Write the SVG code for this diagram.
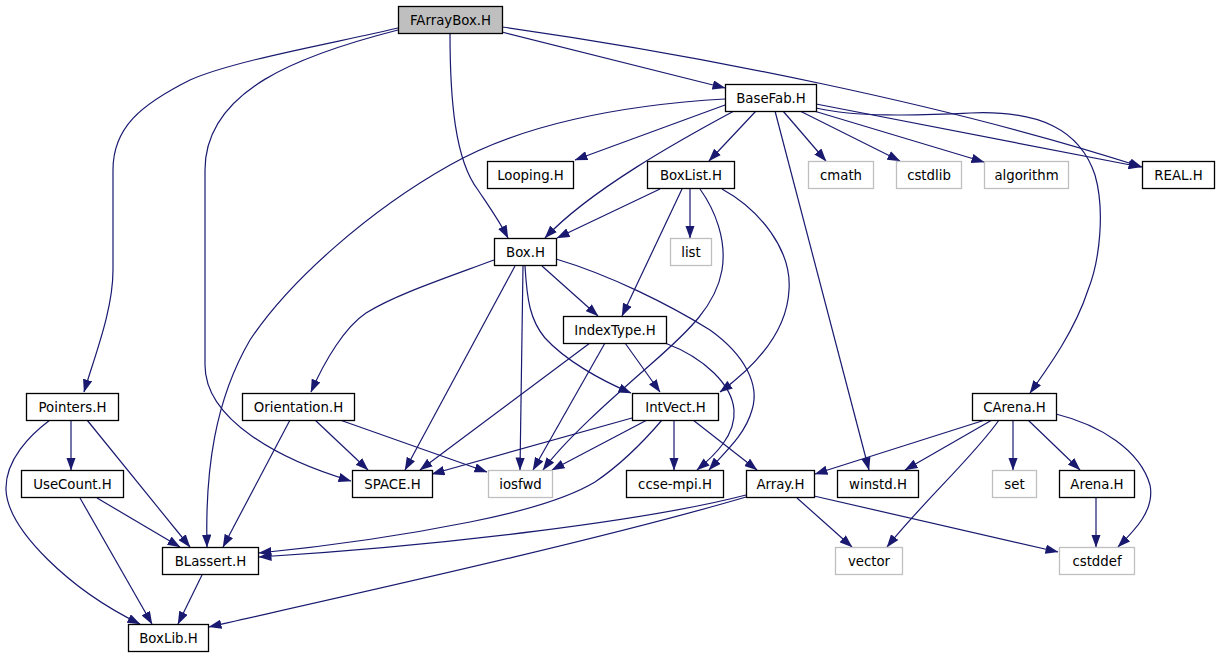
<svg xmlns="http://www.w3.org/2000/svg" width="1219" height="659" viewBox="0 0 1219 659">
<style>
.n rect{fill:#ffffff;stroke:#000000;stroke-width:1.3}
.s rect{fill:#ffffff;stroke:#bfbfbf;stroke-width:1.3}
.r rect{fill:#bfbfbf;stroke:#000000;stroke-width:1.3}
text{font-family:"DejaVu Sans",sans-serif;font-size:13.3px;fill:#000000;text-anchor:middle}
#edges path{fill:none;stroke:#191970;stroke-width:1.2;marker-end:url(#arr)}
</style>
<defs>
<marker id="arr" viewBox="0 0 13 9.4" refX="12.5" refY="4.7" markerWidth="13" markerHeight="9.4" orient="auto" markerUnits="userSpaceOnUse"><path d="M0,0 L13,4.7 L0,9.4 z" fill="#191970"/></marker>
</defs>
<rect width="1219" height="659" fill="#ffffff"/>
<g id="edges">
<path d="M398,28 C340,42 235,60 190,80 C140,105 113,128 113,170 L113,270 C113,310 95,355 84,392"/>
<path d="M398,30 C300,55 205,90 205,170 L205,365 C205,420 280,460 351,481"/>
<path d="M450,33 C450,100 455,160 478,190 C490,208 500,222 508,238"/>
<path d="M502,32 L725,88"/>
<path d="M502,27 C700,55 950,105 1142,167"/>
<path d="M725,99 C620,105 520,125 450,165 C370,210 290,280 250,340 C215,400 205,470 207,547"/>
<path d="M725,105 L575,160"/>
<path d="M734,111 C680,140 590,190 545,238"/>
<path d="M756,111 L709,161"/>
<path d="M775,111 L869,470"/>
<path d="M783,111 L826,161"/>
<path d="M800,111 L900,161"/>
<path d="M814,111 L984,162"/>
<path d="M816,104 L1141,167"/>
<path d="M816,108 C860,118 920,115 970,113 C1040,110 1080,130 1095,175 C1105,210 1100,260 1088,290 C1075,330 1050,365 1030,393"/>
<path d="M660,189 L557,238"/>
<path d="M690,189 L690,238"/>
<path d="M682,189 L622,316"/>
<path d="M700,189 C715,210 727,240 722,270 C716,305 690,330 650,365 C610,400 565,440 543,470"/>
<path d="M722,189 C760,210 792,250 789,290 C787,330 757,365 720,392"/>
<path d="M494,260 C440,280 395,295 366,313 C345,327 325,360 311,392"/>
<path d="M515,266 L405,470"/>
<path d="M523,266 L520,470"/>
<path d="M542,266 L598,316"/>
<path d="M525,266 C527,300 530,320 545,338 C565,360 600,380 631,393"/>
<path d="M556,259 C610,275 670,305 710,330 C745,355 760,385 752,410 C745,435 725,452 709,470"/>
<path d="M590,343 L420,470"/>
<path d="M605,343 L533,470"/>
<path d="M625,343 L660,392"/>
<path d="M665,343 C705,358 732,385 734,410 C736,435 715,455 697,470"/>
<path d="M632,418 L432,474"/>
<path d="M647,420 L552,470"/>
<path d="M674,420 L674,470"/>
<path d="M693,420 L757,470"/>
<path d="M662,420 C645,440 620,465 595,482 C565,500 520,512 470,522 C400,536 320,547 259,553"/>
<path d="M315,420 L368,470"/>
<path d="M340,420 L487,472"/>
<path d="M290,420 L223,547"/>
<path d="M71,420 L71,470"/>
<path d="M87,420 L190,547"/>
<path d="M50,420 C30,435 5,460 6,490 C8,530 70,590 140,624"/>
<path d="M97,498 L180,547"/>
<path d="M80,498 L152,624"/>
<path d="M202,575 L178,624"/>
<path d="M985,420 L815,474"/>
<path d="M992,420 L905,470"/>
<path d="M999,420 C975,455 920,505 887,547"/>
<path d="M1013,420 L1013,470"/>
<path d="M1028,420 L1080,470"/>
<path d="M1056,414 C1100,425 1140,450 1150,485 C1155,510 1135,530 1118,547"/>
<path d="M746,495 C650,520 450,545 259,557"/>
<path d="M746,497 C600,540 350,595 209,627"/>
<path d="M797,498 L852,547"/>
<path d="M814,496 L1058,552"/>
<path d="M1096,498 L1096,547"/>
</g>
<g id="FArrayBox_H" class="r"><rect x="398.5" y="6.5" width="104" height="27"/><text x="450.5" y="24.5">FArrayBox.H</text></g>
<g id="BaseFab_H" class="n"><rect x="725.5" y="84.5" width="91" height="27"/><text x="771" y="102.5">BaseFab.H</text></g>
<g id="Looping_H" class="n"><rect x="487.5" y="161.5" width="86" height="27"/><text x="530.5" y="179.5">Looping.H</text></g>
<g id="BoxList_H" class="n"><rect x="647.5" y="161.5" width="87" height="27"/><text x="691" y="179.5">BoxList.H</text></g>
<g id="cmath" class="s"><rect x="808.5" y="161.5" width="65" height="27"/><text x="841" y="179.5">cmath</text></g>
<g id="cstdlib" class="s"><rect x="896.5" y="161.5" width="65" height="27"/><text x="929" y="179.5">cstdlib</text></g>
<g id="algorithm" class="s"><rect x="984.5" y="161.5" width="84" height="27"/><text x="1026.5" y="179.5">algorithm</text></g>
<g id="REAL_H" class="n"><rect x="1142.5" y="161.5" width="72" height="27"/><text x="1178.5" y="179.5">REAL.H</text></g>
<g id="Box_H" class="n"><rect x="494.5" y="238.5" width="62" height="27"/><text x="525.5" y="256.5">Box.H</text></g>
<g id="list" class="s"><rect x="670.5" y="238.5" width="41" height="27"/><text x="691" y="256.5">list</text></g>
<g id="IndexType_H" class="n"><rect x="563.5" y="316.5" width="103" height="27"/><text x="615" y="334.5">IndexType.H</text></g>
<g id="Pointers_H" class="n"><rect x="26.5" y="393.5" width="92" height="27"/><text x="72.5" y="411.5">Pointers.H</text></g>
<g id="Orientation_H" class="n"><rect x="242.5" y="393.5" width="112" height="27"/><text x="298.5" y="411.5">Orientation.H</text></g>
<g id="IntVect_H" class="n"><rect x="632.5" y="393.5" width="86" height="27"/><text x="675.5" y="411.5">IntVect.H</text></g>
<g id="CArena_H" class="n"><rect x="972.5" y="393.5" width="84" height="27"/><text x="1014.5" y="411.5">CArena.H</text></g>
<g id="UseCount_H" class="n"><rect x="21.5" y="470.5" width="102" height="27"/><text x="72.5" y="488.5">UseCount.H</text></g>
<g id="SPACE_H" class="n"><rect x="352.5" y="470.5" width="80" height="27"/><text x="392.5" y="488.5">SPACE.H</text></g>
<g id="iosfwd" class="s"><rect x="488.5" y="470.5" width="64" height="27"/><text x="520.5" y="488.5">iosfwd</text></g>
<g id="ccse-mpi_H" class="n"><rect x="626.5" y="470.5" width="97" height="27"/><text x="675" y="488.5">ccse-mpi.H</text></g>
<g id="Array_H" class="n"><rect x="746.5" y="470.5" width="68" height="27"/><text x="780.5" y="488.5">Array.H</text></g>
<g id="winstd_H" class="n"><rect x="837.5" y="470.5" width="81" height="27"/><text x="878" y="488.5">winstd.H</text></g>
<g id="set" class="s"><rect x="992.5" y="470.5" width="44" height="27"/><text x="1014.5" y="488.5">set</text></g>
<g id="Arena_H" class="n"><rect x="1059.5" y="470.5" width="75" height="27"/><text x="1097" y="488.5">Arena.H</text></g>
<g id="BLassert_H" class="n"><rect x="162.5" y="547.5" width="96" height="27"/><text x="210.5" y="565.5">BLassert.H</text></g>
<g id="vector" class="s"><rect x="835.5" y="547.5" width="67" height="27"/><text x="869" y="565.5">vector</text></g>
<g id="cstddef" class="s"><rect x="1059.5" y="547.5" width="75" height="27"/><text x="1097" y="565.5">cstddef</text></g>
<g id="BoxLib_H" class="n"><rect x="128.5" y="624.5" width="80" height="27"/><text x="168.5" y="642.5">BoxLib.H</text></g>
</svg>
